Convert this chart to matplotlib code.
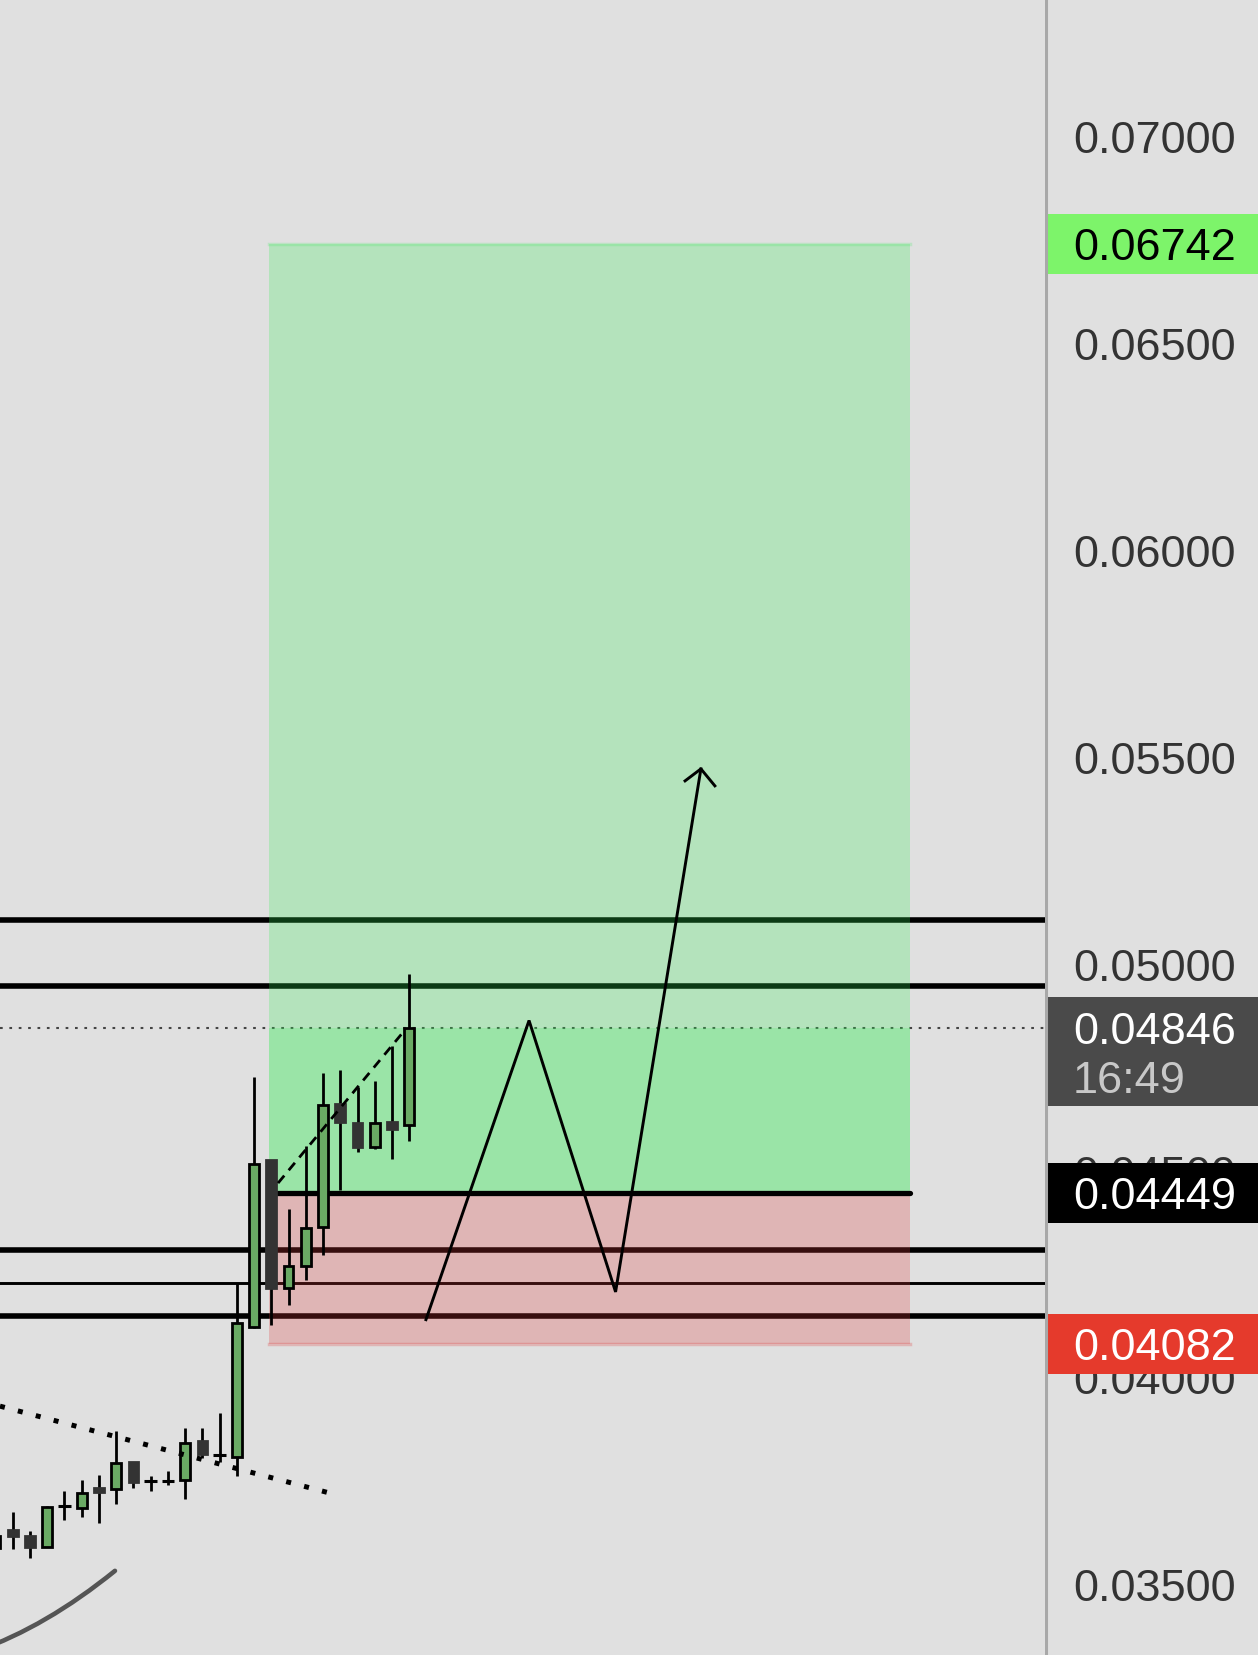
import matplotlib
matplotlib.use("Agg")
import matplotlib.pyplot as plt
from matplotlib.patches import Rectangle, PathPatch
from matplotlib.path import Path

# candles (oldest -> newest)
opens  = [0.03590, 0.03634, 0.03619, 0.03592, 0.03692, 0.03686, 0.03736, 0.03733, 0.03797, 0.03752, 0.03752, 0.03755, 0.03848,
          0.03814, 0.03809, 0.04125, 0.04528, 0.04219, 0.04272, 0.04367, 0.04662, 0.04618, 0.04560, 0.04620, 0.04612]
highs  = [0.03634, 0.03677, 0.03631, 0.03692, 0.03728, 0.03755, 0.03767, 0.03873, 0.03797, 0.03764, 0.03776, 0.03881, 0.03881,
          0.03916, 0.04230, 0.04729, 0.04528, 0.04409, 0.04562, 0.04737, 0.04745, 0.04705, 0.04719, 0.04804, 0.04977]
lows   = [0.03557, 0.03588, 0.03567, 0.03592, 0.03658, 0.03666, 0.03651, 0.03696, 0.03736, 0.03729, 0.03742, 0.03709, 0.03807,
          0.03797, 0.03765, 0.04121, 0.04129, 0.04177, 0.04238, 0.04298, 0.04455, 0.04546, 0.04554, 0.04530, 0.04574]
closes = [0.03620, 0.03619, 0.03593, 0.03690, 0.03692, 0.03724, 0.03725, 0.03796, 0.03750, 0.03752, 0.03752, 0.03843, 0.03817,
          0.03814, 0.04135, 0.04517, 0.04218, 0.04272, 0.04364, 0.04661, 0.04619, 0.04560, 0.04618, 0.04603, 0.04846]

# drawings
hlines_thick = [0.05108, 0.04948, 0.04310, 0.04151]
hlines_thin = [0.04230]
take_profit = 0.06742
entry = 0.04449
stop_loss = 0.04082
last_price = 0.04846
last_time = "16:49"
box_x = [15.86, 53.05]
trend_x = [16.39, 23.75]
trend_y = [0.04472, 0.04842]
down_x = [0.26, 19.75]
down_y = [0.03933, 0.03719]
arc_x = [-1.02, 2.93, 6.93]        # quadratic curve: start, control, end
arc_y = [0.03342, 0.03400, 0.03535]
path_x = [24.97, 30.95, 35.97, 40.92]
path_y = [0.04142, 0.04865, 0.04209, 0.05473]
head_x = [40.00, 40.92, 41.73]
head_y = [0.05444, 0.05473, 0.05432]

price_ticks = [0.035, 0.040, 0.045, 0.050, 0.055, 0.060, 0.065, 0.070]

W, H = 1258, 1655
bg = "#e0e0e0"
ylo, yhi = 0.033316, 0.073311
px = (yhi - ylo) / H  # price per pixel

plt.rcParams['font.family'] = ['Liberation Sans', 'DejaVu Sans']
fig = plt.figure(figsize=(W / 100, H / 100), dpi=100, facecolor=bg)
ax = fig.add_axes([0, 0, 1045 / W, 1])
ax.set_facecolor(bg)
ax.set_xlim(0.261, 60.88)
ax.set_ylim(ylo, yhi)
ax.axis('off')

# horizontal levels
for y in hlines_thick:
    ax.axhline(y, color="black", lw=4, zorder=2)
for y in hlines_thin:
    ax.axhline(y, color="black", lw=2.1, zorder=2)
ax.axhline(last_price, color="#444444", lw=1.5, ls=(0, (1.3, 3.2)), zorder=2)

# long position box
bw = box_x[1] - box_x[0]
ax.add_patch(Rectangle((box_x[0], entry), bw, take_profit - entry, facecolor=(0.2, 0.93, 0.33), alpha=0.25,
                       edgecolor="none", zorder=3))
ax.add_patch(Rectangle((box_x[0], entry), bw, last_price - entry, facecolor=(0.2, 0.93, 0.33), alpha=0.2,
                       edgecolor="none", zorder=3))
ax.add_patch(Rectangle((box_x[0], stop_loss), bw, entry - stop_loss, facecolor=(0.87, 0.22, 0.22), alpha=0.25,
                       edgecolor="none", zorder=3))
ax.plot(box_x, [take_profit] * 2, color=(0.2, 0.93, 0.33), alpha=0.2, lw=2.5, zorder=3)
ax.plot(box_x, [stop_loss] * 2, color=(0.87, 0.22, 0.22), alpha=0.25, lw=2.5, zorder=3)
ax.plot(box_x, [entry] * 2, color="black", lw=3.8, solid_capstyle="round", zorder=4)

# candles
idx = list(range(len(opens)))
ax.vlines(idx, lows, highs, color="black", lw=2, zorder=5)
for i, o, c in zip(idx, opens, closes):
    if abs(c - o) < 0.00004:
        ax.hlines(c, i - 0.36, i + 0.36, color="black", lw=2.2, zorder=6)
    elif c > o:
        ax.bar(i, c - o, bottom=o, width=0.56, color="#6aaa64", edgecolor="black", lw=2, zorder=6)
    else:
        ax.bar(i, o - c, bottom=c, width=0.56, color="#333333", edgecolor="#333333", lw=2, zorder=6)

# trend lines
ax.plot(trend_x, trend_y, color="black", lw=2, ls=(0, (3.5, 2.5)), zorder=7)
ax.plot(down_x, down_y, color="black", lw=3.6, ls=(0, (1, 2.7)), zorder=7)
arc = Path(list(zip(arc_x, arc_y)), [Path.MOVETO, Path.CURVE3, Path.CURVE3])
ax.add_patch(PathPatch(arc, facecolor="none", edgecolor="#555555", lw=3.3, capstyle="round", zorder=7))

# projected path
ax.plot(path_x, path_y, color="black", lw=2.1, solid_joinstyle="miter", zorder=8)
ax.plot(head_x, head_y, color="black", lw=2.1, zorder=8)

# price scale
ax2 = fig.add_axes([1045 / W, 0, 213 / W, 1])
ax2.set_facecolor(bg)
ax2.set_xlim(0, 213)
ax2.set_ylim(ylo, yhi)
ax2.axis('off')
ax2.axvline(0.5, color="#a8a8a8", lw=2.2, zorder=5)

fs = 32.5
for t in price_ticks:
    ax2.text(28, t, f"{t:.5f}", fontsize=fs, color="#333333", va="center_baseline", ha="left", zorder=2)


def tag(y_center, h_px, color, text, tcolor):
    h = h_px * px
    ax2.add_patch(Rectangle((1.5, y_center - h / 2), 212, h, facecolor=color, edgecolor="none", zorder=3))
    ax2.text(28, y_center, text, fontsize=fs, color=tcolor, va="center_baseline", ha="left", zorder=4)


tag(take_profit, 60, "#7df46a", f"{take_profit:.5f}", "black")
tag(entry, 60, "black", f"{entry:.5f}", "white")
tag(stop_loss, 60, "#e53a2c", f"{stop_loss:.5f}", "white")

# last price tag with countdown
top = last_price + 31 * px
ax2.add_patch(Rectangle((1.5, top - 109 * px), 212, 109 * px, facecolor="#4a4a4a", edgecolor="none", zorder=3))
ax2.text(28, last_price, f"{last_price:.5f}", fontsize=fs, color="white", va="center_baseline", ha="left", zorder=4)
ax2.text(28, last_price - 48.5 * px, last_time, fontsize=fs, color="#c8c8c8", va="center_baseline", ha="left", zorder=4)

fig.savefig("out.png", dpi=100, facecolor=bg)
